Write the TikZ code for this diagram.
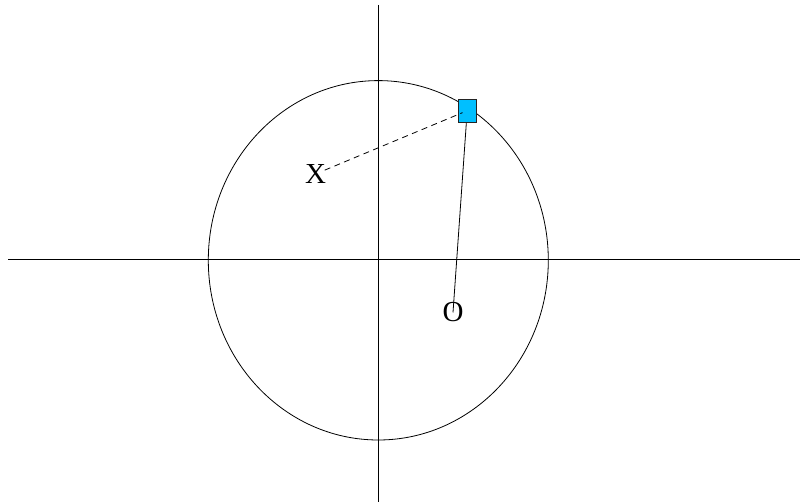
\documentclass[tikz,border=0pt]{standalone}
\usepackage{fontspec}
\setmainfont{Liberation Serif}
\usepackage{tikz}
\usetikzlibrary{
  shapes.geometric
}
\definecolor{tagblue}{RGB}{0,191,255}
\definecolor{tagedge}{RGB}{35,35,35}
\tikzset{
  axisLine/.style={
    line width=0.9pt,
    draw=black
  },
  rimLine/.style={
    line width=0.8pt,
    draw=black
  },
  tagBox/.style={
    rectangle,
    draw=tagedge,
    fill=tagblue,
    line width=0.9pt,
    minimum width=17.7pt,
    minimum height=23.3pt,
    inner sep=0pt
  },
  pointLabel/.style={
    inner sep=0pt,
    font=\fontsize{29}{34}\selectfont
  },
  sightLine/.style={
    line width=0.8pt,
    dash pattern=on 6pt off 4.5pt
  },
  armLine/.style={
    line width=0.8pt
  }
}

\begin{document}
\begin{tikzpicture}[x=1pt, y=-1pt]
  \useasboundingbox (0,0) rectangle (800,502);

  \coordinate (west) at (8,259.5);
  \coordinate (east) at (800,259.5);
  \coordinate (north) at (378.5,5);
  \coordinate (south) at (378.5,502);
  \coordinate (hub) at (378.3,260.3);

  \draw[axisLine] (west) -- (east);
  \draw[axisLine] (north) -- (south);
  \draw[rimLine] (hub) ellipse [x radius=170, y radius=179.7];

  \node[pointLabel] (xmark) at (315.5,174) {X};
  \node[pointLabel] (omark) at (453,312.5) {O};
  \node[tagBox] (tag) at (467.2,110.7) {};

  \draw[armLine] (omark.center) -- (tag);
  \draw[sightLine, shorten <=10pt, shorten >=5pt]
    (xmark.center) -- (tag.center);
\end{tikzpicture}
\end{document}
